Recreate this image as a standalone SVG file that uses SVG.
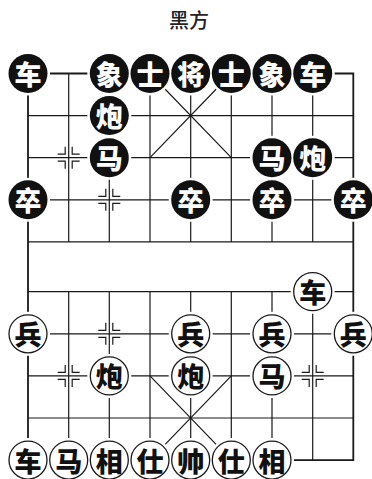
<svg xmlns="http://www.w3.org/2000/svg" xmlns:xlink="http://www.w3.org/1999/xlink" width="372" height="479" viewBox="0 0 372 479">
<style>
.ln{stroke:#1a1a1a;stroke-width:1.2;fill:none}
.bd{stroke:#1a1a1a;stroke-width:1.8;fill:none}
.halo{fill:#fff}
.bk{fill:#111}
.rd{fill:#fff;stroke:#1a1a1a;stroke-width:1.3}
.tb{fill:#fff;font-family:"Noto Sans CJK SC","Noto Sans CJK JP",sans-serif;font-weight:900;font-size:27px;text-anchor:middle;dominant-baseline:central}
.tr{fill:#111;font-family:"Noto Sans CJK SC","Noto Sans CJK JP",sans-serif;font-weight:900;font-size:27px;text-anchor:middle;dominant-baseline:central}
.title{fill:#222;font-family:"Noto Sans CJK SC","Noto Sans CJK JP",sans-serif;font-weight:500;font-size:20px;text-anchor:middle}
</style>
<defs>
<g id="mk" class="ln">
<path d="M-11,-3.5H-3.5V-11M11,-3.5H3.5V-11M-11,3.5H-3.5V11M11,3.5H3.5V11"/>
</g>
<circle id="h" r="22" class="halo"/>
</defs>
<rect width="372" height="479" fill="#fff"/>
<text class="title" x="189" y="28">黑方</text>
<g id="board">
<path class="ln" d="M28,115.6H353.3M28,157.7H353.3M28,199.8H353.3M28,241.9H353.3M28,291.7H353.3M28,333.8H353.3M28,375.9H353.3M28,418H353.3"/>
<path class="ln" d="M68.7,73.5V241.9M109.3,73.5V241.9M150,73.5V241.9M190.7,73.5V241.9M231.3,73.5V241.9M272,73.5V241.9M312.7,73.5V241.9"/>
<path class="ln" d="M68.7,291.7V460.1M109.3,291.7V460.1M150,291.7V460.1M190.7,291.7V460.1M231.3,291.7V460.1M272,291.7V460.1M312.7,291.7V460.1"/>
<path class="ln" d="M150,73.5L231.3,157.7M231.3,73.5L150,157.7M150,375.9L231.3,460.1M231.3,375.9L150,460.1"/>
<path class="bd" d="M28,73.5H353.3V460.1H28Z"/>
<use xlink:href="#mk" x="68.7" y="157.7"/>
<use xlink:href="#mk" x="109.3" y="199.8"/>
<use xlink:href="#mk" x="109.3" y="333.8"/>
<use xlink:href="#mk" x="68.7" y="375.9"/>
<use xlink:href="#mk" x="312.7" y="375.9"/>
</g>
<g id="halos">
<use xlink:href="#h" x="28" y="73.5"/><use xlink:href="#h" x="109.3" y="73.5"/><use xlink:href="#h" x="150" y="73.5"/><use xlink:href="#h" x="190.7" y="73.5"/><use xlink:href="#h" x="231.3" y="73.5"/><use xlink:href="#h" x="272" y="73.5"/><use xlink:href="#h" x="312.7" y="73.5"/>
<use xlink:href="#h" x="109.3" y="115.6"/><use xlink:href="#h" x="109.3" y="157.7"/><use xlink:href="#h" x="272" y="157.7"/><use xlink:href="#h" x="312.7" y="157.7"/>
<use xlink:href="#h" x="28" y="199.8"/><use xlink:href="#h" x="190.7" y="199.8"/><use xlink:href="#h" x="272" y="199.8"/><use xlink:href="#h" x="353.3" y="199.8"/>
<use xlink:href="#h" x="312.7" y="291.7"/>
<use xlink:href="#h" x="28" y="333.8"/><use xlink:href="#h" x="190.7" y="333.8"/><use xlink:href="#h" x="272" y="333.8"/><use xlink:href="#h" x="353.3" y="333.8"/>
<use xlink:href="#h" x="109.3" y="375.9"/><use xlink:href="#h" x="190.7" y="375.9"/><use xlink:href="#h" x="272" y="375.9"/>
<use xlink:href="#h" x="28" y="460.1"/><use xlink:href="#h" x="68.7" y="460.1"/><use xlink:href="#h" x="109.3" y="460.1"/><use xlink:href="#h" x="150" y="460.1"/><use xlink:href="#h" x="190.7" y="460.1"/><use xlink:href="#h" x="231.3" y="460.1"/><use xlink:href="#h" x="272" y="460.1"/>
</g>
<g id="black-pieces">
<g id="b-che1"><circle class="bk" cx="28" cy="73.5" r="19.5"/><text class="tb" x="28" y="73.5">车</text></g>
<g id="b-xiang1"><circle class="bk" cx="109.3" cy="73.5" r="19.5"/><text class="tb" x="109.3" y="73.5">象</text></g>
<g id="b-shi1"><circle class="bk" cx="150" cy="73.5" r="19.5"/><text class="tb" x="150" y="73.5">士</text></g>
<g id="b-jiang"><circle class="bk" cx="190.7" cy="73.5" r="19.5"/><text class="tb" x="190.7" y="73.5">将</text></g>
<g id="b-shi2"><circle class="bk" cx="231.3" cy="73.5" r="19.5"/><text class="tb" x="231.3" y="73.5">士</text></g>
<g id="b-xiang2"><circle class="bk" cx="272" cy="73.5" r="19.5"/><text class="tb" x="272" y="73.5">象</text></g>
<g id="b-che2"><circle class="bk" cx="312.7" cy="73.5" r="19.5"/><text class="tb" x="312.7" y="73.5">车</text></g>
<g id="b-pao1"><circle class="bk" cx="109.3" cy="115.6" r="19.5"/><text class="tb" x="109.3" y="115.6">炮</text></g>
<g id="b-ma1"><circle class="bk" cx="109.3" cy="157.7" r="19.5"/><text class="tb" x="109.3" y="157.7">马</text></g>
<g id="b-ma2"><circle class="bk" cx="272" cy="157.7" r="19.5"/><text class="tb" x="272" y="157.7">马</text></g>
<g id="b-pao2"><circle class="bk" cx="312.7" cy="157.7" r="19.5"/><text class="tb" x="312.7" y="157.7">炮</text></g>
<g id="b-zu1"><circle class="bk" cx="28" cy="199.8" r="19.5"/><text class="tb" x="28" y="199.8">卒</text></g>
<g id="b-zu2"><circle class="bk" cx="190.7" cy="199.8" r="19.5"/><text class="tb" x="190.7" y="199.8">卒</text></g>
<g id="b-zu3"><circle class="bk" cx="272" cy="199.8" r="19.5"/><text class="tb" x="272" y="199.8">卒</text></g>
<g id="b-zu4"><circle class="bk" cx="353.3" cy="199.8" r="19.5"/><text class="tb" x="353.3" y="199.8">卒</text></g>
</g>
<g id="red-pieces">
<g id="r-che1"><circle class="rd" cx="312.7" cy="291.7" r="19"/><text class="tr" x="312.7" y="291.7">车</text></g>
<g id="r-bing1"><circle class="rd" cx="28" cy="333.8" r="19"/><text class="tr" x="28" y="333.8">兵</text></g>
<g id="r-bing2"><circle class="rd" cx="190.7" cy="333.8" r="19"/><text class="tr" x="190.7" y="333.8">兵</text></g>
<g id="r-bing3"><circle class="rd" cx="272" cy="333.8" r="19"/><text class="tr" x="272" y="333.8">兵</text></g>
<g id="r-bing4"><circle class="rd" cx="353.3" cy="333.8" r="19"/><text class="tr" x="353.3" y="333.8">兵</text></g>
<g id="r-pao1"><circle class="rd" cx="109.3" cy="375.9" r="19"/><text class="tr" x="109.3" y="375.9">炮</text></g>
<g id="r-pao2"><circle class="rd" cx="190.7" cy="375.9" r="19"/><text class="tr" x="190.7" y="375.9">炮</text></g>
<g id="r-ma1"><circle class="rd" cx="272" cy="375.9" r="19"/><text class="tr" x="272" y="375.9">马</text></g>
<g id="r-che2"><circle class="rd" cx="28" cy="460.1" r="19"/><text class="tr" x="28" y="460.1">车</text></g>
<g id="r-ma2"><circle class="rd" cx="68.7" cy="460.1" r="19"/><text class="tr" x="68.7" y="460.1">马</text></g>
<g id="r-xiang1"><circle class="rd" cx="109.3" cy="460.1" r="19"/><text class="tr" x="109.3" y="460.1">相</text></g>
<g id="r-shi1"><circle class="rd" cx="150" cy="460.1" r="19"/><text class="tr" x="150" y="460.1">仕</text></g>
<g id="r-shuai"><circle class="rd" cx="190.7" cy="460.1" r="19"/><text class="tr" x="190.7" y="460.1">帅</text></g>
<g id="r-shi2"><circle class="rd" cx="231.3" cy="460.1" r="19"/><text class="tr" x="231.3" y="460.1">仕</text></g>
<g id="r-xiang2"><circle class="rd" cx="272" cy="460.1" r="19"/><text class="tr" x="272" y="460.1">相</text></g>
</g>
</svg>
